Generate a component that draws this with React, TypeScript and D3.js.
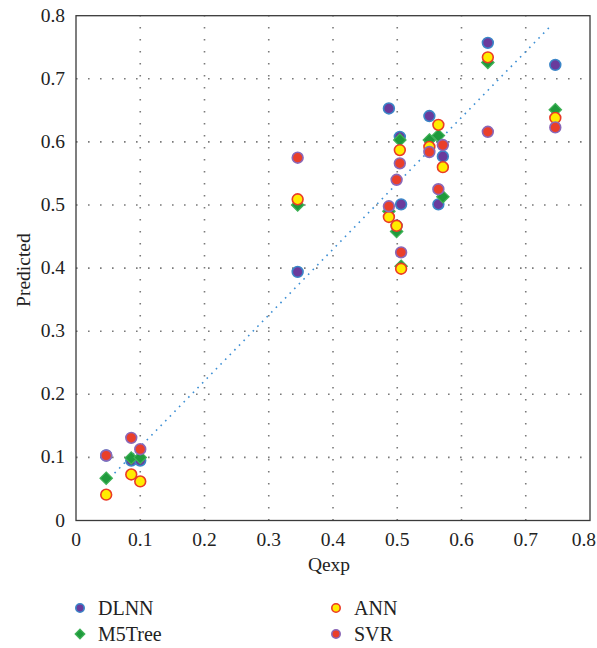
import React from "react";
import * as d3 from "d3";

// Experimental discharge for each sample
const qexp = [0.047, 0.086, 0.1, 0.345, 0.487, 0.499, 0.504, 0.506, 0.55, 0.564, 0.571, 0.641, 0.746];

// Predicted values per model, one per sample
const dlnn = [0.103, 0.095, 0.095, 0.394, 0.653, 0.467, 0.608, 0.501, 0.641, 0.501, 0.577, 0.757, 0.722];
const m5tree = [0.067, 0.099, 0.1, 0.5, 0.49, 0.458, 0.603, 0.403, 0.603, 0.61, 0.513, 0.726, 0.651];
const ann = [0.041, 0.073, 0.062, 0.509, 0.481, 0.467, 0.587, 0.399, 0.592, 0.627, 0.56, 0.734, 0.638];
const svr = [0.103, 0.131, 0.113, 0.575, 0.498, 0.54, 0.566, 0.425, 0.584, 0.525, 0.595, 0.616, 0.623];

// Reference trend line endpoints [Qexp, Predicted]
const trendLine: [number, number][] = [
  [0.06, 0.075],
  [0.741, 0.786],
];

const ticks = [0, 0.1, 0.2, 0.3, 0.4, 0.5, 0.6, 0.7, 0.8];

const W = 597;
const H = 648;
const left = 76;
const right = 590;
const top = 15.7;
const bottom = 520.5;
const FONT = "'Liberation Serif', 'DejaVu Serif', serif";

const x = d3.scaleLinear().domain([0, 0.8]).range([left, right]);
const y = d3.scaleLinear().domain([0, 0.8]).range([bottom, top]);

type Style = { kind: "circle" | "diamond"; fill: string; stroke: string };

const styles: Record<string, Style> = {
  DLNN: { kind: "circle", fill: "#6a3b9c", stroke: "#3b86c8" },
  M5Tree: { kind: "diamond", fill: "#1f9a3c", stroke: "#3fb257" },
  ANN: { kind: "circle", fill: "#ffec00", stroke: "#ea3a26" },
  SVR: { kind: "circle", fill: "#ea3f2a", stroke: "#8a68b8" },
};

const seriesOrder: [string, number[]][] = [
  ["DLNN", dlnn],
  ["M5Tree", m5tree],
  ["ANN", ann],
  ["SVR", svr],
];

function Marker({ cx, cy, s, r }: { cx: number; cy: number; s: Style; r: number }) {
  if (s.kind === "diamond") {
    const d = r * 1.15;
    return (
      <path
        d={`M${cx},${cy - d}L${cx + d},${cy}L${cx},${cy + d}L${cx - d},${cy}Z`}
        fill={s.fill}
        stroke={s.stroke}
        strokeWidth={1.2}
      />
    );
  }
  return <circle cx={cx} cy={cy} r={r} fill={s.fill} stroke={s.stroke} strokeWidth={1.6} />;
}

export default function App() {
  const line = d3
    .line<[number, number]>()
    .x((d) => x(d[0]))
    .y((d) => y(d[1]));

  const legend = [
    { name: "DLNN", lx: 80, ly: 608 },
    { name: "M5Tree", lx: 80, ly: 634 },
    { name: "ANN", lx: 336, ly: 608 },
    { name: "SVR", lx: 336, ly: 634 },
  ];

  const fmt = d3.format("~g");

  return (
    <div style={{ position: "absolute", left: 0, top: 0 }}>
      <svg width={W} height={H} style={{ display: "block", background: "#fff" }} fontFamily={FONT}>
        {/* dotted grid */}
        <g stroke="#7a7a7a" strokeWidth={1.6} strokeDasharray="1.6,10.4">
          {ticks.slice(1, -1).map((t) => (
            <line key={`v${t}`} x1={x(t)} x2={x(t)} y1={bottom} y2={top} />
          ))}
          {ticks.slice(1, -1).map((t) => (
            <line key={`h${t}`} x1={left} x2={right} y1={y(t)} y2={y(t)} />
          ))}
        </g>

        {/* trend line */}
        <path d={line(trendLine) ?? ""} fill="none" stroke="#3d8fd4" strokeWidth={1.6} strokeDasharray="1.6,5" />

        {/* frame */}
        <rect x={left} y={top} width={right - left} height={bottom - top} fill="none" stroke="#3a3a3a" strokeWidth={1.3} />

        {/* data */}
        {seriesOrder.map(([name, vals]) => (
          <g key={name}>
            {vals.map((v, i) => (
              <Marker key={i} cx={x(qexp[i])} cy={y(v)} s={styles[name]} r={5.4} />
            ))}
          </g>
        ))}

        {/* axes labels */}
        <g fontSize={19.5} fill="#222">
          {ticks.map((t, i) =>
            i === ticks.length - 1 ? (
              <text key={`xt${t}`} x={W - 1} y={bottom + 25} textAnchor="end">
                {fmt(t)}
              </text>
            ) : (
              <text key={`xt${t}`} x={x(t)} y={bottom + 25} textAnchor="middle">
                {fmt(t)}
              </text>
            )
          )}
          {ticks.map((t) => (
            <text key={`yt${t}`} x={left - 11} y={y(t) + 6} textAnchor="end">
              {fmt(t)}
            </text>
          ))}
          <text x={(left + right) / 2 - 4} y={571} textAnchor="middle">
            Qexp
          </text>
          <text transform={`translate(30,${(top + bottom) / 2 + 2}) rotate(-90)`} textAnchor="middle">
            Predicted
          </text>
        </g>

        {/* legend */}
        <g fontSize={20} fill="#222">
          {legend.map((l) => (
            <g key={l.name}>
              <Marker cx={l.lx} cy={l.ly} s={styles[l.name]} r={4.2} />
              <text x={l.lx + 18} y={l.ly + 6.5}>
                {l.name}
              </text>
            </g>
          ))}
        </g>
      </svg>
    </div>
  );
}
